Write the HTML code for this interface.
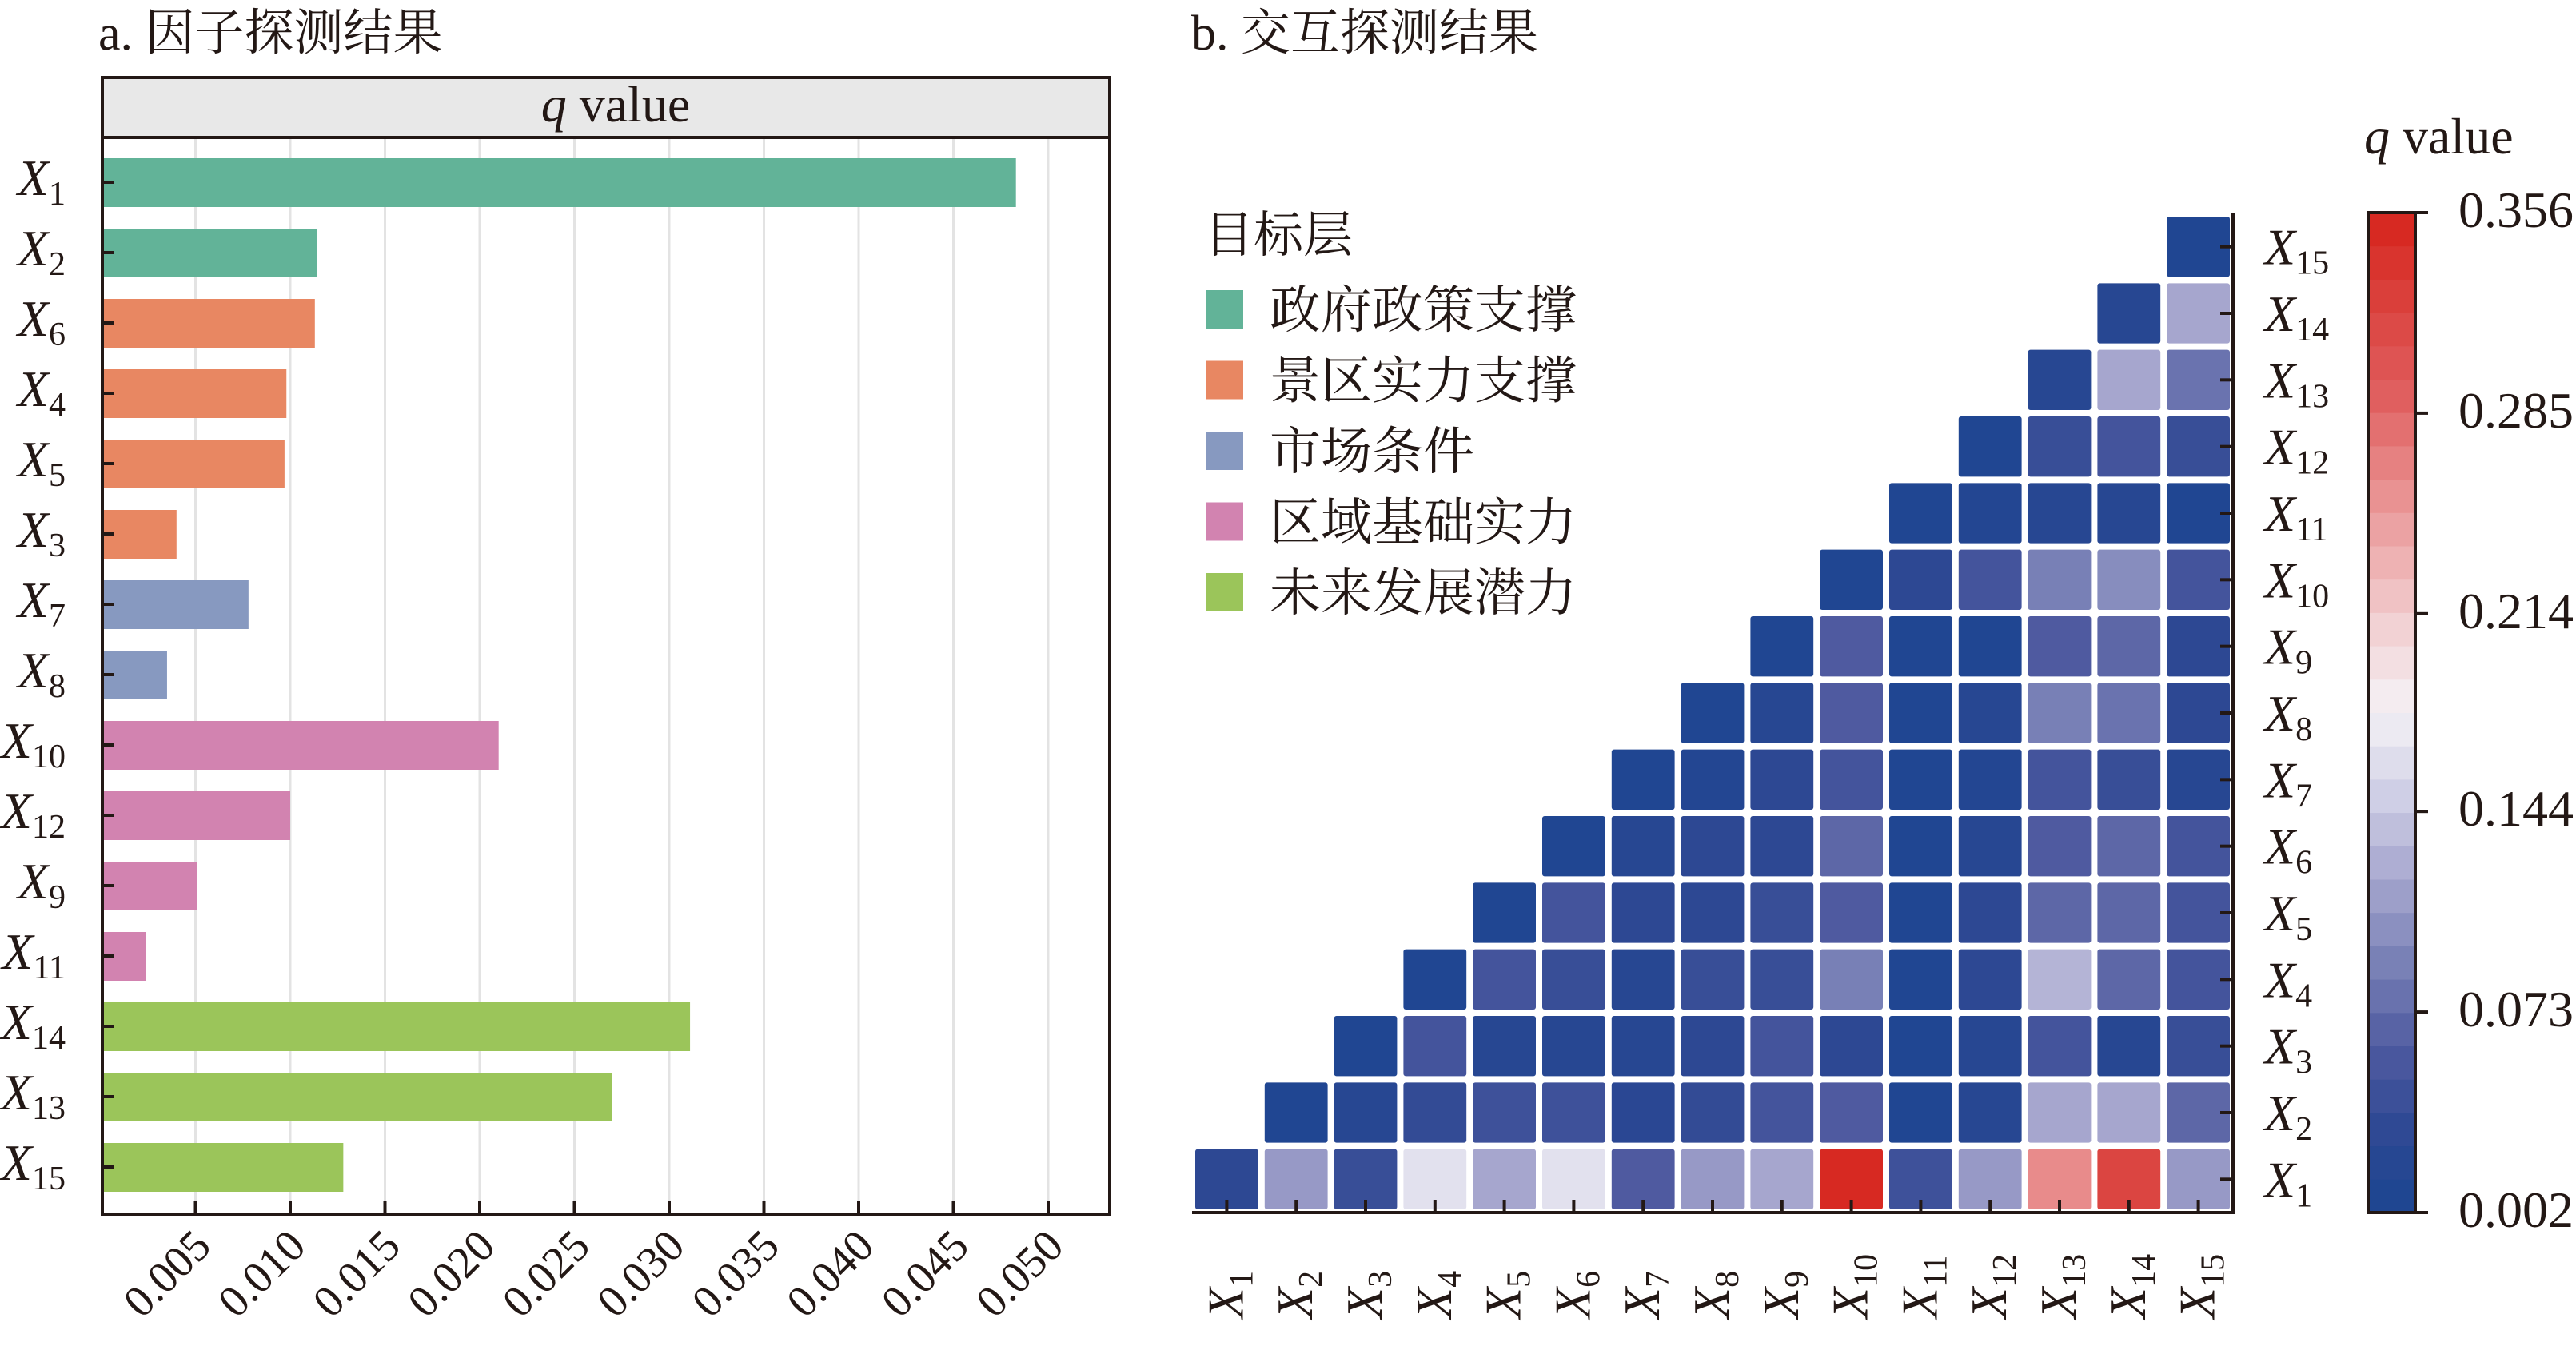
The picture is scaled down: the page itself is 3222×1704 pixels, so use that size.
<!DOCTYPE html>
<html><head><meta charset="utf-8"><style>
html,body{margin:0;padding:0;background:#fff;}
svg{display:block;font-family:"Liberation Serif","Noto Serif CJK SC",serif;}
</style></head><body>
<svg id="fig" width="3222" height="1704" viewBox="0 0 3222 1704" xmlns="http://www.w3.org/2000/svg">
<text x="123" y="62" font-size="62" fill="#231815">a. 因子探测结果</text>
<text x="1490" y="62" font-size="62" fill="#231815">b. 交互探测结果</text>
<rect x="128" y="97" width="1260" height="75" fill="#e8e8e8" stroke="#231815" stroke-width="4"/>
<text x="770" y="152" font-size="64" text-anchor="middle" fill="#231815"><tspan font-style="italic">q</tspan> value</text>
<g id="barGrid"></g><g id="bars"></g>
<rect x="128" y="172" width="1260" height="1347" fill="none" stroke="#231815" stroke-width="4"/>
<g id="barAxes"></g>
<text x="1506" y="315" font-size="62" fill="#231815">目标层</text>
<g id="legend"></g>
<g id="heat"></g>
<g id="heatAxes"></g>
<text x="2957" y="192" font-size="64" fill="#231815"><tspan font-style="italic">q</tspan> value</text>
<g id="cbar"></g>
</svg>
<script>
const NS="http://www.w3.org/2000/svg";
function mk(tag,attrs,parent){const e=document.createElementNS(NS,tag);for(const k in attrs)e.setAttribute(k,attrs[k]);parent.appendChild(e);return e;}
// ---- Panel a data ----
const barLabels=["1","2","6","4","5","3","7","8","10","12","9","11","14","13","15"];
const barValues=[0.0483,0.0114,0.0113,0.0098,0.0097,0.0040,0.0078,0.0035,0.0210,0.0100,0.0051,0.0024,0.0311,0.0270,0.0128];
const barGroups=[0,0,1,1,1,1,2,2,3,3,3,3,4,4,4];
const xTicks=[0.005,0.010,0.015,0.020,0.025,0.030,0.035,0.040,0.045,0.050];
const groupNames=["政府政策支撑","景区实力支撑","市场条件","区域基础实力","未来发展潜力"];
const groupColors=["#62b398","#e88762","#8799c0","#d283b0","#9bc55a"];
const bx=v=>126+v/0.005*118.5;
const by=i=>228+i*88;
const gG=document.getElementById('barGrid'),gB=document.getElementById('bars'),gA=document.getElementById('barAxes');
xTicks.forEach((t,i)=>{
  const l=mk('line',{x1:bx(t),x2:bx(t),y1:174,y2:1517,stroke:"#e3e3e3","stroke-width":3},gG);
  
  
  const tk=mk('line',{x1:bx(t),x2:bx(t),y1:1517,y2:1503,stroke:"#231815","stroke-width":4},gA);
  
  
  const tx=mk('text',{x:bx(t)+22,y:1562,"font-size":56,"text-anchor":"end",fill:"#231815",transform:`rotate(-45 ${bx(t)+22} 1562)`},gA);
  
  
  tx.textContent=t.toFixed(3);
});
barValues.forEach((v,i)=>{
  const r=mk('rect',{x:130,y:by(i)-30,width:bx(v)-130,height:61,fill:groupColors[barGroups[i]]},gB);
  
  
  const tk=mk('line',{x1:128,x2:142,y1:by(i),y2:by(i),stroke:"#231815","stroke-width":4},gA);
  
  
  const t=mk('text',{x:82,y:by(i)+16,"font-size":64,"text-anchor":"end",fill:"#231815"},gA);
  
  
  t.innerHTML=`<tspan font-style="italic">X</tspan><tspan font-size="42" dy="12">${barLabels[i]}</tspan>`;
});
const gL=document.getElementById('legend');
groupNames.forEach((n,i)=>{
  const y=387+i*88.5;
  const r=mk('rect',{x:1508,y:y-24,width:47,height:48,fill:groupColors[i]},gL);
  
  
  const t=mk('text',{x:1588,y:y+23,"font-size":64,fill:"#231815"},gL);
  
  
  t.textContent=n;
});
// ---- Panel b data ----
const heatRows=[
 [0.030,0.110,0.040,0.165,0.120,0.165,0.060,0.110,0.120,0.350,0.045,0.110,0.260,0.320,0.110],
 [0.010,0.020,0.035,0.045,0.045,0.025,0.035,0.050,0.060,0.010,0.020,0.120,0.120,0.070],
 [0.010,0.050,0.020,0.020,0.020,0.030,0.050,0.030,0.010,0.020,0.050,0.020,0.040],
 [0.010,0.050,0.040,0.020,0.040,0.040,0.090,0.010,0.030,0.130,0.070,0.050],
 [0.010,0.050,0.030,0.030,0.040,0.060,0.010,0.030,0.070,0.070,0.050],
 [0.010,0.020,0.030,0.030,0.070,0.010,0.020,0.060,0.070,0.050],
 [0.010,0.015,0.030,0.050,0.010,0.015,0.050,0.040,0.020],
 [0.010,0.020,0.060,0.010,0.020,0.090,0.080,0.030],
 [0.010,0.060,0.010,0.010,0.060,0.070,0.030],
 [0.010,0.030,0.050,0.090,0.100,0.050],
 [0.010,0.015,0.020,0.020,0.010],
 [0.010,0.040,0.050,0.040],
 [0.020,0.120,0.080],
 [0.020,0.120],
 [0.010]
];
const cbTicks=[0.002,0.073,0.144,0.214,0.285,0.356];
const qMin=0.002,qMax=0.356;
const stops=[[0.002,[27,69,145]],[0.03,[45,72,147]],[0.06,[79,90,160]],[0.09,[120,128,182]],[0.12,[166,166,206]],[0.15,[208,208,230]],[0.18,[244,242,246]],[0.21,[242,208,210]],[0.25,[234,154,154]],[0.29,[224,96,96]],[0.356,[214,36,28]]];
function cmap(v){
  for(let i=1;i<stops.length;i++){if(v<=stops[i][0]){const a=stops[i-1],b=stops[i];const t=(v-a[0])/(b[0]-a[0]);const c=a[1].map((x,k)=>Math.round(x+(b[1][k]-x)*t));return `rgb(${c})`;}}
  return `rgb(${stops[stops.length-1][1]})`;
}
const hx0=1491,hx1=2793,hy0=267,hy1=1517,n=15;
const cw=(hx1-hx0)/n,ch=(hy1-hy0)/n;
const colX=c=>hx0+c*cw, rowY=r=>hy1-(r+1)*ch;
const gH=document.getElementById('heat'),gHA=document.getElementById('heatAxes');
heatRows.forEach((row,r)=>{
  row.forEach((v,k)=>{
    const c=r+k;
    const e=mk('rect',{x:colX(c)+4,y:rowY(r)+4,width:cw-8,height:ch-8,rx:3,fill:cmap(v)},gH);
    
    
  });
});
mk('path',{d:`M${hx0} ${hy1} H${hx1} V${hy0}`,fill:"none",stroke:"#231815","stroke-width":4},gHA);
for(let i=0;i<n;i++){
  const cx=colX(i)+cw/2, cy=rowY(i)+ch/2;
  const t1=mk('line',{x1:cx,x2:cx,y1:hy1,y2:hy1-16,stroke:"#231815","stroke-width":4},gHA);
  
  
  const t2=mk('line',{x1:hx1,x2:hx1-16,y1:cy,y2:cy,stroke:"#231815","stroke-width":4},gHA);
  
  
  const yl=mk('text',{x:2832,y:cy+22,"font-size":64,fill:"#231815"},gHA);
  
  
  yl.innerHTML=`<tspan font-style="italic">X</tspan><tspan font-size="42" dy="12">${i+1}</tspan>`;
  const xl=mk('text',{x:cx+20,y:1650,"font-size":64,fill:"#231815",transform:`rotate(-90 ${cx+20} 1650)`},gHA);
  
  
  xl.innerHTML=`<tspan font-style="italic">X</tspan><tspan font-size="42" dy="12">${i+1}</tspan>`;
}
// colorbar
const gC=document.getElementById('cbar');
const cbx=2962,cbw=59,cy0=266,cy1=1517;
const cyv=v=>cy1-(v-qMin)/(qMax-qMin)*(cy1-cy0);
const nb=30;
for(let i=0;i<nb;i++){
  const v0=qMin+(qMax-qMin)*i/nb, v1=qMin+(qMax-qMin)*(i+1)/nb;
  const b=mk('rect',{x:cbx,y:cyv(v1),width:cbw,height:cyv(v0)-cyv(v1)+0.5,fill:cmap((v0+v1)/2)},gC);
  
  
}
mk('rect',{x:cbx,y:cy0,width:cbw,height:cy1-cy0,fill:"none",stroke:"#231815","stroke-width":4},gC);
cbTicks.forEach(t=>{
  const y=cyv(t);
  const l=mk('line',{x1:cbx+cbw,x2:cbx+cbw+16,y1:y,y2:y,stroke:"#231815","stroke-width":4},gC);
  
  
  const tx=mk('text',{x:3075,y:y+18,"font-size":64,fill:"#231815"},gC);
  
  
  tx.textContent=t.toFixed(3);
});
</script>
</body></html>
